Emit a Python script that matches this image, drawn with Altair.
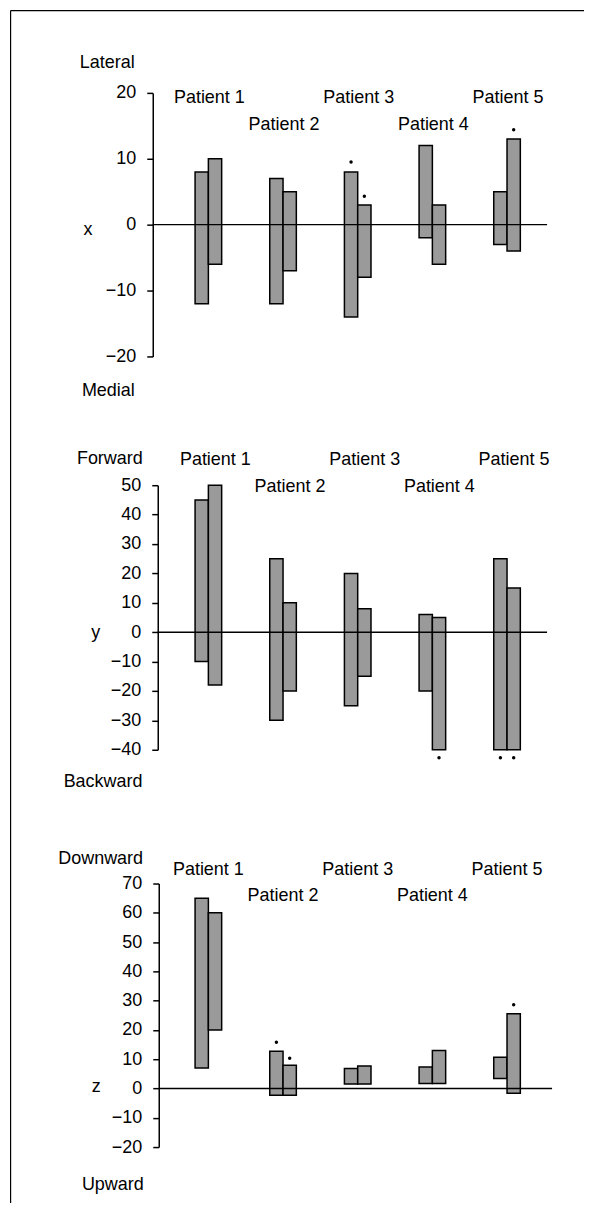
import altair as alt
import pandas as pd

FONT = "Liberation Sans"
PATIENTS = [1, 2, 3, 4, 5]
PATIENT_NAMES = ["Patient 1", "Patient 2", "Patient 3", "Patient 4", "Patient 5"]

# ---- x : Lateral / Medial ----
X_A_LOW = [-12, -12, -14, -2, -3]
X_A_HIGH = [8, 7, 8, 12, 5]
X_B_LOW = [-6, -7, -8, -6, -4]
X_B_HIGH = [10, 5, 3, 3, 13]
X_DOT_PATIENT = [3, 3, 5]
X_DOT_BAR = ["a", "b", "b"]
X_DOT_VALUE = [9.5, 4.3, 14.4]
X_TICKS = [-20, -10, 0, 10, 20]

# ---- y : Forward / Backward ----
Y_A_LOW = [-10, -30, -25, -20, -40]
Y_A_HIGH = [45, 25, 20, 6, 25]
Y_B_LOW = [-18, -20, -15, -40, -40]
Y_B_HIGH = [50, 10, 8, 5, 15]
Y_DOT_PATIENT = [4, 5, 5]
Y_DOT_BAR = ["b", "a", "b"]
Y_DOT_VALUE = [-42.7, -42.7, -42.7]
Y_TICKS = [-40, -30, -20, -10, 0, 10, 20, 30, 40, 50]

# ---- z : Downward / Upward ----
Z_A_LOW = [7, -2.3, 1.5, 1.7, 3.4]
Z_A_HIGH = [65, 12.7, 6.8, 7.3, 10.7]
Z_B_LOW = [20, -2.3, 1.5, 1.7, -1.6]
Z_B_HIGH = [60, 7.9, 7.7, 13, 25.5]
Z_DOT_PATIENT = [2, 2, 5]
Z_DOT_BAR = ["a", "b", "b"]
Z_DOT_VALUE = [15.8, 10.3, 28.6]
Z_TICKS = [-20, -10, 0, 10, 20, 30, 40, 50, 60, 70]

BW = 0.178
W = 400
XSCALE = alt.Scale(domain=[0.255, 5.603], nice=False, zero=False)


def text_layer(txt, x, y, align):
    return alt.Chart(pd.DataFrame({"t": [txt]})).mark_text(
        font=FONT, fontSize=18, color="black", align=align, baseline="alphabetic"
    ).encode(x=alt.value(x), y=alt.value(y), text="t:N")


def panel(a_low, a_high, b_low, b_high, dp, db, dv, ticks, height, yrange,
          axis_offset, zero_x, name_dx, odd_y, even_y,
          top_txt, top_pos, bot_txt, bot_pos, letter, letter_pos, extra=()):
    rows = []
    for i, p in enumerate(PATIENTS):
        rows.append({"x0": p - BW, "x1": p, "low": a_low[i], "high": a_high[i]})
        rows.append({"x0": p, "x1": p + BW, "low": b_low[i], "high": b_high[i]})
    bars = pd.DataFrame(rows)
    dots = pd.DataFrame({
        "dx": [p - BW / 2 if b == "a" else p + BW / 2 for p, b in zip(dp, db)],
        "v": dv,
    })
    sc = dict(domain=[ticks[0], ticks[-1]], nice=False, zero=False)
    if yrange is not None:
        sc["range"] = yrange
    yscale = alt.Scale(**sc)
    ax = alt.Axis(values=ticks, title=None, grid=False, domainColor="black",
                  domainWidth=1.5, tickColor="black", tickWidth=1.5, tickSize=6,
                  labelFont=FONT, labelFontSize=18, labelColor="black",
                  labelPadding=11, labelOverlap=False, offset=axis_offset)

    bar_l = alt.Chart(bars).mark_rect(fill="#9a9a9a", stroke="black", strokeWidth=1.5).encode(
        x=alt.X("x0:Q", scale=XSCALE, axis=None), x2="x1:Q",
        y=alt.Y("low:Q", scale=yscale, axis=ax), y2="high:Q")
    zero_l = alt.Chart(pd.DataFrame({"low": [0]})).mark_rule(color="black", strokeWidth=1.4).encode(
        x=alt.value(zero_x[0]), x2=alt.value(zero_x[1]),
        y=alt.Y("low:Q", scale=yscale, axis=ax))
    dot_l = alt.Chart(dots).mark_circle(size=12, color="black", opacity=1).encode(
        x=alt.X("dx:Q", scale=XSCALE, axis=None),
        y=alt.Y("v:Q", scale=yscale, axis=ax))
    odd = pd.DataFrame({"p": PATIENTS[0::2], "name": PATIENT_NAMES[0::2]})
    even = pd.DataFrame({"p": PATIENTS[1::2], "name": PATIENT_NAMES[1::2]})
    lab_odd = alt.Chart(odd).mark_text(font=FONT, fontSize=18, color="black", align="center",
                                       baseline="alphabetic", dx=name_dx).encode(
        x=alt.X("p:Q", scale=XSCALE, axis=None), y=alt.value(odd_y), text="name:N")
    lab_even = alt.Chart(even).mark_text(font=FONT, fontSize=18, color="black", align="center",
                                         baseline="alphabetic", dx=name_dx).encode(
        x=alt.X("p:Q", scale=XSCALE, axis=None), y=alt.value(even_y), text="name:N")
    layers = [bar_l, zero_l, dot_l, lab_odd, lab_even,
              text_layer(top_txt, top_pos[0], top_pos[1], "right"),
              text_layer(bot_txt, bot_pos[0], bot_pos[1], "right"),
              text_layer(letter, letter_pos[0], letter_pos[1], "center")]
    layers += list(extra)
    return alt.layer(*layers).properties(width=W, height=height)


border_left = alt.Chart(pd.DataFrame({"a": [0]})).mark_rule(color="black", strokeWidth=1.2).encode(
    x=alt.value(-142.4), y=alt.value(-82.5), y2=alt.value(1112))
border_top = alt.Chart(pd.DataFrame({"a": [0]})).mark_rule(color="black", strokeWidth=1.2).encode(
    x=alt.value(-142.4), x2=alt.value(432), y=alt.value(-82.5))

p1 = panel(X_A_LOW, X_A_HIGH, X_B_LOW, X_B_HIGH, X_DOT_PATIENT, X_DOT_BAR, X_DOT_VALUE,
           X_TICKS, 264, None, 0, (0, 395), 1, 10, 37,
           "Lateral", (-18, -25), "Medial", (-18, 304), "x", (-65, 142.3),
           extra=(border_left, border_top))
p2 = panel(Y_A_LOW, Y_A_HIGH, Y_B_LOW, Y_B_HIGH, Y_DOT_PATIENT, Y_DOT_BAR, Y_DOT_VALUE,
           Y_TICKS, 270, [265, 0], -5, (5, 395), 7, -20.7, 6.7,
           "Forward", (-10, -21), "Backward", (-10.3, 302.7), "y", (-57.2, 153))
p3 = panel(Z_A_LOW, Z_A_HIGH, Z_B_LOW, Z_B_HIGH, Z_DOT_PATIENT, Z_DOT_BAR, Z_DOT_VALUE,
           Z_TICKS, 264, None, -6, (6, 400), 0, -8.7, 17.3,
           "Downward", (-9.7, -19.4), "Upward", (-9, 307), "z", (-56.5, 209))

chart = alt.vconcat(p1, p2, p3, spacing=129, bounds="flush",
                    padding={"left": 2, "top": 0, "right": 0, "bottom": 0}
                    ).configure_view(stroke=None)

chart.save("out.html", embed_options={"renderer": "svg", "actions": False})
